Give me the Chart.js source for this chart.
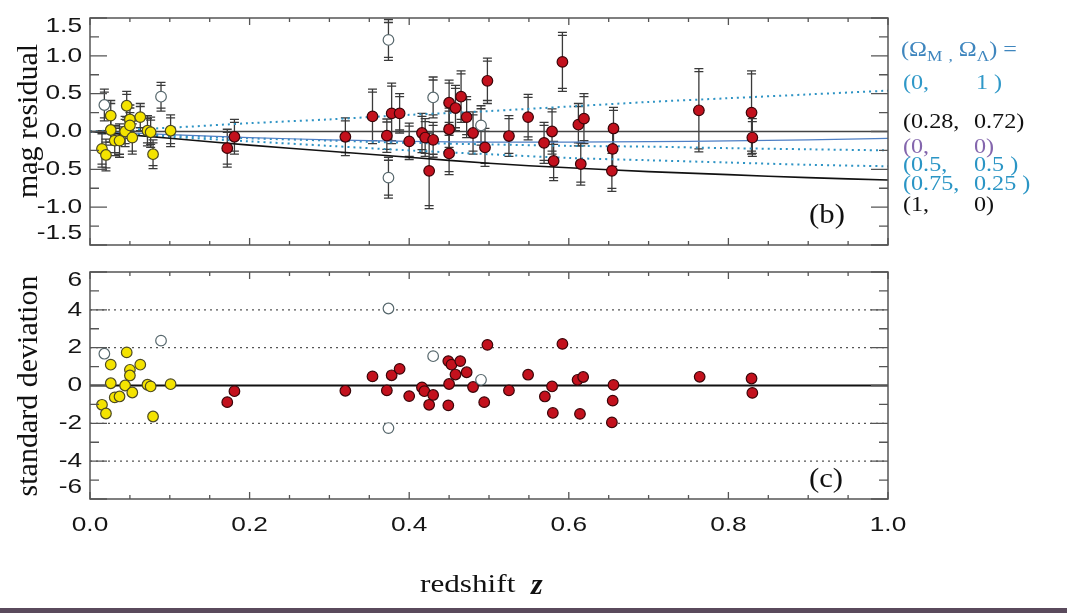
<!DOCTYPE html>
<html>
<head>
<meta charset="utf-8">
<script src="https://cdn.jsdelivr.net/npm/chart.js@4.4.1/dist/chart.umd.min.js"></script>
<style>
  body { margin: 0; background: #fff; }
  #wrap { position: relative; width: 1067px; height: 613px; overflow: hidden; font-family: 'Liberation Serif', 'Times New Roman', serif; }
  canvas { position: absolute; left: 0; }
  .txt { position: absolute; white-space: pre; line-height: 1; }
  .leg { font-size: 21px; transform: scaleX(1.15); transform-origin: left top; }
  .leg sub { font-size: 15px; vertical-align: -5px; line-height: 0; }
  .ytitle { font-size: 30px; color: #111; transform: translate(-50%, -50%) rotate(-90deg); }
  .panel { font-size: 28px; color: #111; transform: translate(-50%, -50%) scaleX(1.1); }
  #strip { position: absolute; left: 0; top: 608px; width: 1067px; height: 5px; background: #5a4a5c; }
</style>
</head>
<body>
<div id="wrap">
  <canvas id="residChart" width="1067" height="262" style="top:0"></canvas>
  <canvas id="sigmaChart" width="1067" height="358" style="top:255px"></canvas>

  <div class="txt ytitle" style="left:27px; top:121px">mag residual</div>
  <div class="txt ytitle" style="left:27px; top:386px">standard deviation</div>
  <div class="txt panel" style="left:827px; top:214px">(b)</div>
  <div class="txt panel" style="left:826px; top:478px">(c)</div>

  <div class="txt" style="left:420px; top:571px; font-size:26px; color:#111; transform:scaleX(1.2); transform-origin:left top">redshift</div>
  <div class="txt" style="left:531px; top:569px; font-size:30px; color:#111; font-style:italic; font-weight:bold">z</div>

  <div class="txt leg" style="left:901px; top:39px; color:#3f86be">(Ω<sub>M</sub> <sub>,</sub> Ω<sub>Λ</sub>) =</div>
  <div class="txt leg" style="left:903px; top:72px; color:#2f98c8">(0,</div>
  <div class="txt leg" style="left:976px; top:72px; color:#2f98c8">1 )</div>
  <div class="txt leg" style="left:903px; top:111px; color:#111">(0.28,</div>
  <div class="txt leg" style="left:974px; top:111px; color:#111">0.72)</div>
  <div class="txt leg" style="left:903px; top:136px; color:#8466ad">(0,</div>
  <div class="txt leg" style="left:974px; top:136px; color:#8466ad">0)</div>
  <div class="txt leg" style="left:903px; top:154px; color:#2a95c5">(0.5,</div>
  <div class="txt leg" style="left:974px; top:154px; color:#2a95c5">0.5 )</div>
  <div class="txt leg" style="left:903px; top:173px; color:#2a95c5">(0.75,</div>
  <div class="txt leg" style="left:974px; top:173px; color:#2a95c5">0.25 )</div>
  <div class="txt leg" style="left:903px; top:194px; color:#111">(1,</div>
  <div class="txt leg" style="left:974px; top:194px; color:#111">0)</div>

  <div id="strip"></div>
</div>

<script>
// ---- axis ticks / labels ----
const zTicks = [0, 0.2, 0.4, 0.6, 0.8, 1.0];
const zTickLabels = ['0.0', '0.2', '0.4', '0.6', '0.8', '1.0'];
const residTicks = [1.5, 1.0, 0.5, 0.0, -0.5, -1.0, -1.5];
const residTickLabels = ['1.5', '1.0', '0.5', '0.0', '-0.5', '-1.0', '-1.5'];
const sigmaTicks = [6, 4, 2, 0, -2, -4, -6];
const sigmaTickLabels = ['6', '4', '2', '0', '-2', '-4', '-6'];
const sigmaDottedLevels = [4, 2, -2, -4];

// ---- low-z supernovae (yellow) ----
const lowZ     = [0.015, 0.020, 0.026, 0.026, 0.031, 0.037, 0.044, 0.046, 0.050, 0.050, 0.053, 0.063, 0.072, 0.076, 0.079, 0.101];
const lowMag   = [-0.23, -0.31, 0.21, 0.02, -0.12, -0.12, 0.00, 0.34, 0.16, 0.08, -0.08, 0.19, 0.01, -0.01, -0.30, 0.01];
const lowErr   = [0.24, 0.21, 0.20, 0.20, 0.20, 0.22, 0.20, 0.19, 0.19, 0.17, 0.22, 0.18, 0.20, 0.20, 0.19, 0.21];
const lowSigma = [-1.02, -1.48, 1.10, 0.12, -0.63, -0.58, 0.00, 1.75, 0.83, 0.53, -0.37, 1.10, 0.04, -0.05, -1.64, 0.07];

// ---- high-z supernovae (red) ----
const highZ   = [0.172, 0.181, 0.320, 0.354, 0.372, 0.378, 0.388, 0.400, 0.416, 0.420, 0.425, 0.430, 0.450, 0.450, 0.450, 0.458, 0.465, 0.472,
                 0.480, 0.495, 0.498, 0.525, 0.549, 0.569, 0.579, 0.581, 0.592, 0.612, 0.619, 0.615, 0.656, 0.655, 0.654, 0.763, 0.829, 0.830];
const highMag = [-0.22, -0.07, -0.07, 0.20, -0.055, 0.24, 0.24, -0.13, -0.02, -0.08, -0.52, -0.11, 0.38, 0.03, -0.29, 0.31, 0.46, 0.19,
                 -0.02, -0.21, 0.67, -0.06, 0.19, -0.15, 0.00, -0.39, 0.92, 0.09, 0.17, -0.43, 0.04, -0.23, -0.52, 0.28, 0.25, -0.08];
const highErr = [0.25, 0.23, 0.25, 0.36, 0.22, 0.40, 0.26, 0.24, 0.26, 0.25, 0.50, 0.23, 0.30, 0.28, 0.28, 0.30, 0.34, 0.27,
                 0.28, 0.25, 0.30, 0.27, 0.30, 0.27, 0.30, 0.26, 0.39, 0.28, 0.33, 0.28, 0.28, 0.27, 0.27, 0.55, 0.55, 0.25];
const highSigmaZ = [0.172, 0.181, 0.320, 0.354, 0.372, 0.378, 0.388, 0.400, 0.416, 0.419, 0.425, 0.430, 0.449, 0.450, 0.449, 0.453, 0.458, 0.464, 0.472,
                    0.480, 0.494, 0.498, 0.525, 0.549, 0.570, 0.579, 0.580, 0.592, 0.611, 0.618, 0.614, 0.656, 0.655, 0.654, 0.764, 0.829, 0.830];
const highSigma  = [-0.88, -0.30, -0.28, 0.48, -0.26, 0.54, 0.88, -0.56, -0.10, -0.30, -1.02, -0.50, 1.29, 0.08, -1.05, 1.10, 0.58, 1.29, 0.70,
                    -0.08, -0.88, 2.15, -0.26, 0.57, -0.58, -0.05, -1.45, 2.20, 0.30, 0.45, -1.50, 0.03, -0.80, -1.95, 0.46, 0.37, -0.39];

// ---- excluded supernovae (open circles) ----
const openZ     = [0.018, 0.089, 0.374, 0.374, 0.430, 0.490];
const openMag   = [0.35, 0.46, 1.21, -0.61, 0.45, 0.08];
const openErr   = [0.21, 0.19, 0.27, 0.27, 0.27, 0.26];
const openSigma = [1.68, 2.37, 4.07, -2.25, 1.55, 0.30];

// ---- cosmological model curves relative to (0.28, 0.72) ----
const modelZ       = [0, 0.1, 0.2, 0.3, 0.4, 0.5, 0.6, 0.7, 0.8, 0.9, 1.0];
const model_0_1    = [0, 0.05, 0.11, 0.16, 0.22, 0.27, 0.33, 0.39, 0.44, 0.49, 0.54];
const model_28_72  = [0, 0, 0, 0, 0, 0, 0, 0, 0, 0, 0];
const model_0_0    = [0, -0.04, -0.08, -0.11, -0.13, -0.14, -0.14, -0.135, -0.125, -0.11, -0.09];
const model_50_50  = [0, -0.05, -0.09, -0.12, -0.15, -0.17, -0.19, -0.20, -0.22, -0.235, -0.25];
const model_75_25  = [0, -0.07, -0.13, -0.19, -0.25, -0.30, -0.35, -0.38, -0.41, -0.44, -0.46];
const model_1_0    = [0, -0.09, -0.18, -0.26, -0.34, -0.42, -0.48, -0.53, -0.57, -0.61, -0.64];

const YELLOW = '#f4e300', YELLOW_EDGE = '#4d4a22';
const RED = '#c3111d', RED_EDGE = '#3b0509';
const OPEN_EDGE = '#56676c';
const CYAN = '#2d93c4';
const LABEL_FONT = '21px "Liberation Sans", Arial, sans-serif';
const LABEL_STRETCH = 1.25;

const pts = (xs, ys) => xs.map((x, i) => ({ x, y: ys[i] }));

function markers(xs, ys, fill, edge, errors) {
    return {
        data: pts(xs, ys),
        errors,
        backgroundColor: fill,
        borderColor: edge,
        borderWidth: 1.2,
        pointRadius: 5.3,
        pointHoverRadius: 5.3,
        order: 0,
    };
}

function curve(ys, color, width, dash) {
    return {
        type: 'line',
        data: pts(modelZ, ys),
        borderColor: color,
        borderWidth: width,
        borderDash: dash || [],
        pointRadius: 0,
        tension: 0.3,
        fill: false,
        order: 5,
    };
}

// vertical error bars with doubled caps
const errorBars = {
    id: 'errorBars',
    beforeDatasetsDraw(chart) {
        const { ctx, scales: { x, y } } = chart;
        ctx.save();
        ctx.strokeStyle = '#3a3a3a';
        ctx.lineWidth = 1.3;
        chart.data.datasets.forEach(ds => {
            if (!ds.errors) return;
            ds.data.forEach((p, j) => {
                const e = ds.errors[j];
                const px = x.getPixelForValue(p.x);
                const top = y.getPixelForValue(p.y + e);
                const bot = y.getPixelForValue(p.y - e);
                ctx.beginPath();
                ctx.moveTo(px, top);
                ctx.lineTo(px, bot);
                [top, top + 3, bot, bot - 3].forEach(cy => {
                    ctx.moveTo(px - 4.5, cy);
                    ctx.lineTo(px + 4.5, cy);
                });
                ctx.stroke();
            });
        });
        ctx.restore();
    }
};

// box frame, inward ticks on four sides, reference levels and tick labels
const frameTicks = {
    id: 'frameTicks',
    beforeDatasetsDraw(chart, args, opts) {
        const { ctx, chartArea: a, scales: { y } } = chart;
        ctx.save();
        ctx.strokeStyle = '#555';
        ctx.lineWidth = 1.4;
        ctx.setLineDash([2, 4]);
        (opts.dotted || []).forEach(v => {
            const py = y.getPixelForValue(v);
            ctx.beginPath();
            ctx.moveTo(a.left, py);
            ctx.lineTo(a.right, py);
            ctx.stroke();
        });
        ctx.setLineDash([]);
        ctx.strokeStyle = '#111';
        ctx.lineWidth = 2;
        (opts.solid || []).forEach(v => {
            const py = y.getPixelForValue(v);
            ctx.beginPath();
            ctx.moveTo(a.left, py);
            ctx.lineTo(a.right, py);
            ctx.stroke();
        });
        ctx.restore();
    },
    afterDatasetsDraw(chart, args, opts) {
        const { ctx, chartArea: a, scales: { x, y } } = chart;
        ctx.save();
        ctx.strokeStyle = '#555';
        ctx.lineWidth = 1.5;
        ctx.strokeRect(a.left, a.top, a.right - a.left, a.bottom - a.top);

        ctx.lineWidth = 1.3;
        ctx.beginPath();
        const nx = Math.round((x.max - x.min) / opts.xMinor);
        for (let i = 0; i <= nx; i++) {
            const v = x.min + i * opts.xMinor;
            const major = Math.abs(v / opts.xMajor - Math.round(v / opts.xMajor)) < 1e-6;
            const len = major ? 7 : 4;
            const px = x.getPixelForValue(v);
            ctx.moveTo(px, a.bottom); ctx.lineTo(px, a.bottom - len);
            ctx.moveTo(px, a.top); ctx.lineTo(px, a.top + len);
        }
        const ny = Math.round((y.max - y.min) / opts.yMinor);
        for (let i = 0; i <= ny; i++) {
            const v = y.min + i * opts.yMinor;
            const major = Math.abs(v / opts.yMajor - Math.round(v / opts.yMajor)) < 1e-6;
            const len = major ? 17 : 9;
            const py = y.getPixelForValue(v);
            ctx.moveTo(a.left, py); ctx.lineTo(a.left + len, py);
            ctx.moveTo(a.right, py); ctx.lineTo(a.right - len, py);
        }
        ctx.stroke();

        // tick labels, widened like the original Helvetica; end labels kept inside the box
        ctx.fillStyle = '#151515';
        ctx.font = LABEL_FONT;
        ctx.textBaseline = 'middle';
        ctx.textAlign = 'right';
        opts.yTicks.forEach((v, i) => {
            const py = Math.min(Math.max(y.getPixelForValue(v), a.top + 8), a.bottom - 12);
            ctx.save();
            ctx.translate(a.left - 8, py);
            ctx.scale(LABEL_STRETCH, 1);
            ctx.fillText(opts.yLabels[i], 0, 0);
            ctx.restore();
        });
        if (opts.xTicks) {
            ctx.textAlign = 'center';
            opts.xTicks.forEach((v, i) => {
                ctx.save();
                ctx.translate(x.getPixelForValue(v), a.bottom + 26);
                ctx.scale(LABEL_STRETCH, 1);
                ctx.fillText(opts.xLabels[i], 0, 0);
                ctx.restore();
            });
        }
        ctx.restore();
    }
};

const hiddenAxis = (min, max) => ({ type: 'linear', min, max, display: false });

const baseOptions = (yMin, yMax, padding, frame) => ({
    responsive: false,
    animation: false,
    events: [],
    layout: { padding },
    scales: { x: hiddenAxis(0, 1), y: hiddenAxis(yMin, yMax) },
    plugins: { legend: { display: false }, tooltip: { enabled: false }, frameTicks: frame },
});

// panel (b): magnitude residuals
new Chart(document.getElementById('residChart'), {
    type: 'scatter',
    data: {
        datasets: [
            curve(model_28_72, '#444', 1.6),
            curve(model_1_0, '#111', 1.6),
            curve(model_0_0, '#4f7fc4', 1.2),
            curve(model_0_1, CYAN, 2, [2, 4]),
            curve(model_50_50, CYAN, 2, [2, 4]),
            curve(model_75_25, CYAN, 2, [2, 4]),
            markers(openZ, openMag, '#fff', OPEN_EDGE, openErr),
            markers(highZ, highMag, RED, RED_EDGE, highErr),
            markers(lowZ, lowMag, YELLOW, YELLOW_EDGE, lowErr),
        ]
    },
    options: baseOptions(-1.5, 1.5, { left: 90, right: 179, top: 18, bottom: 17 }, {
        xMinor: 0.05, xMajor: 0.2, yMinor: 0.25, yMajor: 0.5,
        yTicks: residTicks, yLabels: residTickLabels,
    }),
    plugins: [errorBars, frameTicks],
});

// panel (c): deviation in units of sigma
new Chart(document.getElementById('sigmaChart'), {
    type: 'scatter',
    data: {
        datasets: [
            markers(openZ, openSigma, '#fff', OPEN_EDGE),
            markers(highSigmaZ, highSigma, RED, RED_EDGE),
            markers(lowZ, lowSigma, YELLOW, YELLOW_EDGE),
        ]
    },
    options: baseOptions(-6, 6, { left: 90, right: 179, top: 17, bottom: 114 }, {
        xMinor: 0.05, xMajor: 0.2, yMinor: 1, yMajor: 2,
        yTicks: sigmaTicks, yLabels: sigmaTickLabels,
        xTicks: zTicks, xLabels: zTickLabels,
        dotted: sigmaDottedLevels, solid: [0],
    }),
    plugins: [frameTicks],
});
</script>
</body>
</html>
